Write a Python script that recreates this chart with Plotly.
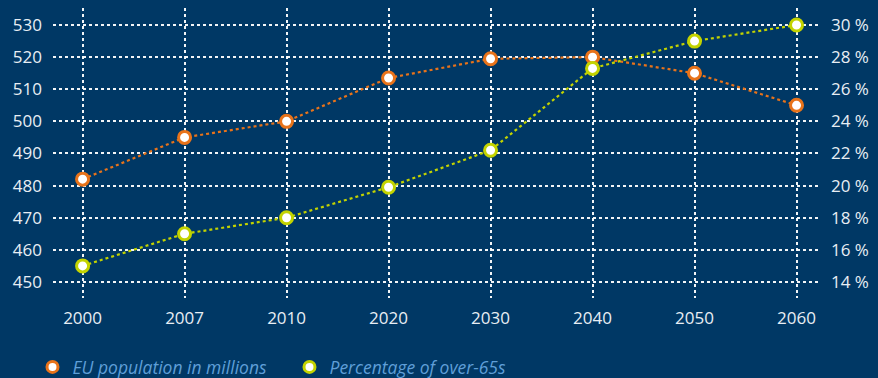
import plotly.graph_objects as go

years = ["2000", "2007", "2010", "2020", "2030", "2040", "2050", "2060"]
population_millions = [482, 495, 500, 513.5, 519.5, 520, 515, 505]
share_over_65 = [15, 17, 18, 19.9, 22.2, 27.3, 29, 30]

pop_ticks = [450, 460, 470, 480, 490, 500, 510, 520, 530]
pct_ticks = [14, 16, 18, 20, 22, 24, 26, 28, 30]
pct_labels = [f"{v} %" for v in pct_ticks]

BG = "#003865"
ORANGE = "#e8731a"
GREEN = "#c3d300"
GRID = "rgba(255,255,255,0.95)"
TICK = "#e8eef4"
LEGEND_TXT = "#5f9fd8"

series = [
    ("EU population in millions", population_millions, ORANGE, "y"),
    ("Percentage of over-65s", share_over_65, GREEN, "y2"),
]

fig = go.Figure()
for name, values, color, axis in series:
    fig.add_trace(go.Scatter(
        x=years, y=values, name=name, showlegend=False,
        mode="lines+markers", yaxis=axis,
        line=dict(color=color, width=2.2, dash="dot"),
        marker=dict(size=12, color="white", line=dict(color=color, width=3)),
    ))
# legend entries show only the ring marker
for name, values, color, axis in series:
    fig.add_trace(go.Scatter(
        x=[None], y=[None], name=name, mode="markers", yaxis=axis,
        marker=dict(size=11, color="white", line=dict(color=color, width=3)),
    ))

fig.update_layout(
    width=878, height=378,
    margin=dict(l=53, r=58, t=8, b=80),
    paper_bgcolor=BG, plot_bgcolor=BG,
    font=dict(family="Open Sans", color=TICK, size=17),
    showlegend=True,
    legend=dict(
        orientation="h", x=0.037, xref="container", xanchor="left",
        y=0.029, yref="container", yanchor="middle",
        font=dict(color=LEGEND_TXT, size=17.5, style="italic"),
        entrywidth=212, entrywidthmode="pixels",
        bgcolor="rgba(0,0,0,0)",
    ),
    xaxis=dict(
        type="category", range=[-0.29, 7.23],
        showgrid=True, gridcolor=GRID, griddash="dot", gridwidth=1.5,
        zeroline=False, showline=False, ticks="", ticklabelstandoff=8,
    ),
    yaxis=dict(
        range=[445, 535.3], tickvals=pop_ticks,
        showgrid=True, gridcolor=GRID, griddash="dot", gridwidth=1.5,
        zeroline=False, showline=False, ticks="", ticklabelstandoff=10,
    ),
    yaxis2=dict(
        overlaying="y", side="right", range=[13, 31.06],
        tickvals=pct_ticks, ticktext=pct_labels,
        showgrid=False, zeroline=False, showline=False, ticks="",
        ticklabelstandoff=10,
    ),
)

fig.write_html("out.html")
